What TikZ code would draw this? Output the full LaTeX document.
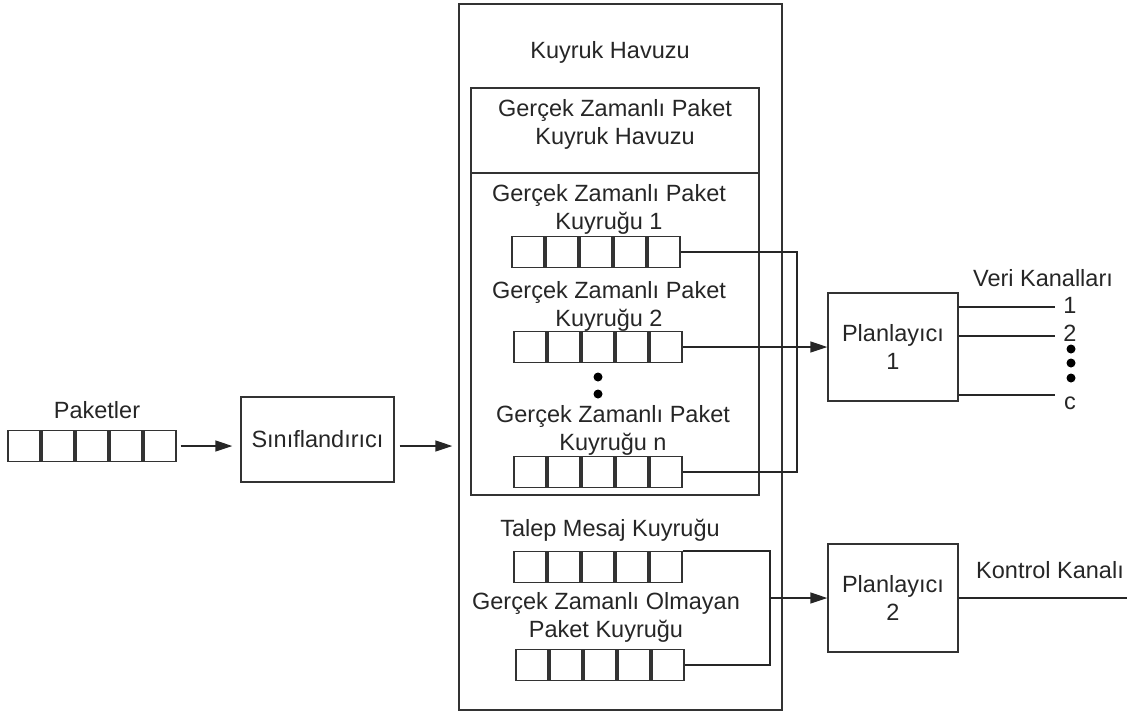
\documentclass[tikz,border=0pt]{standalone}
\usepackage{fontspec}
\setmainfont{Liberation Sans}
\usetikzlibrary{arrows.meta}
% a row of five queue cells: #1 name prefix, #2 x of first centre, #3 y of centres
\newcommand\cellrow[3]{%
  \foreach \i in {1,...,5}{\node[cell] (#1\i) at ({#2+34*(\i-1)},#3) {};}}
\begin{document}
\begin{tikzpicture}[x=1pt,y=-1pt,
  every node/.style={font=\fontsize{23.5}{28}\selectfont, text=black!85},
  box/.style={draw=black!80, line width=1.4pt, inner sep=0pt, align=center},
  cell/.style={draw=black!80, line width=1.4pt, minimum width=32pt, minimum height=31pt, inner sep=0pt},
  wire/.style={draw=black!85, line width=1.4pt},
  arr/.style={wire, -{Triangle[length=17pt,width=11pt]}},
  lbl/.style={align=center, inner sep=0pt},
  dot/.style={circle, fill=black, inner sep=0pt, minimum size=9pt}]
\useasboundingbox (0,0) rectangle (1148,716);

% incoming packets and classifier
\node[lbl] (pktlbl) at (97,410) {Paketler};
\cellrow{p}{24}{446}
\node[box, minimum width=153pt, minimum height=85pt] (cls) at (317.5,439.5) {Sınıflandırıcı};

% queue pool
\node[box, minimum width=323pt, minimum height=706pt] (pool) at (620.5,357) {};
\node[lbl] (poollbl) at (610,52) {Kuyruk Havuzu};
\node[box, minimum width=288pt, minimum height=407pt] (rt) at (615,291.5) {};
\node[box, minimum width=288pt, minimum height=85pt] (rthead) at (615,130.5) {};
\node[lbl] (rtlbl) at (615,124) {Gerçek Zamanlı Paket\\Kuyruk Havuzu};

% real-time queues
\node[lbl] (albl) at (609,209) {Gerçek Zamanlı Paket\\Kuyruğu 1};
\cellrow{a}{528}{252}
\node[lbl] (blbl) at (609,306) {Gerçek Zamanlı Paket\\Kuyruğu 2};
\cellrow{b}{530}{347}
\node[dot] (d1) at (598,377) {};
\node[dot] (d2) at (598,394) {};
\node[lbl] (nlbl) at (613,430) {Gerçek Zamanlı Paket\\Kuyruğu n};
\cellrow{n}{530}{472}

% request and non-real-time queues
\node[lbl] (tlbl) at (610,530) {Talep Mesaj Kuyruğu};
\cellrow{t}{530}{567}
\node[lbl] (olbl) at (606,617) {Gerçek Zamanlı Olmayan\\Paket Kuyruğu};
\cellrow{o}{532}{665}

% schedulers
\node[box, minimum width=130pt, minimum height=108pt] (s1) at (893,347) {Planlayıcı\\1};
\node[box, minimum width=130pt, minimum height=108pt] (s2) at (893,598) {Planlayıcı\\2};

% data channels
\node[lbl] (verilbl) at (1043,278) {Veri Kanalları};
\coordinate (c1) at (1055,307);
\coordinate (c2) at (1055,336);
\coordinate (cc) at (1055,395);
\node[lbl] (ch1) at (1070,305) {1};
\node[lbl] (ch2) at (1070,333) {2};
\node[dot] (e1) at (1071,349) {};
\node[dot] (e2) at (1071,363) {};
\node[dot] (e3) at (1071,378) {};
\node[lbl] (chc) at (1070,403) {c};
\draw[wire] (c1 -| s1.east) -- (c1);
\draw[wire] (c2 -| s1.east) -- (c2);
\draw[wire] (cc -| s1.east) -- (cc);

% control channel
\node[lbl] (ktlbl) at (1050,570) {Kontrol Kanalı};
\coordinate (kend) at (1127,598);
\draw[wire] (s2.east) -- (kend);

% connectors
\draw[arr, shorten <=4pt, shorten >=8pt] (p5.east) -- (p5.east -| cls.west);
\draw[arr, shorten <=5pt, shorten >=6pt] (cls.east |- p5.east) -- (p5.east -| pool.west);
\coordinate (busA) at (797,0);
\coordinate (busB) at (770,0);
\draw[wire] (a5.east) -| (busA |- n5.east) -- (n5.east);
\draw[arr] (b5.east) -- (b5.east -| s1.west);
\draw[wire] (t5.north east) -| (busB |- o5.east) -- (o5.east);
\draw[arr] (busB |- s2.west) -- (s2.west);
\end{tikzpicture}
\end{document}
